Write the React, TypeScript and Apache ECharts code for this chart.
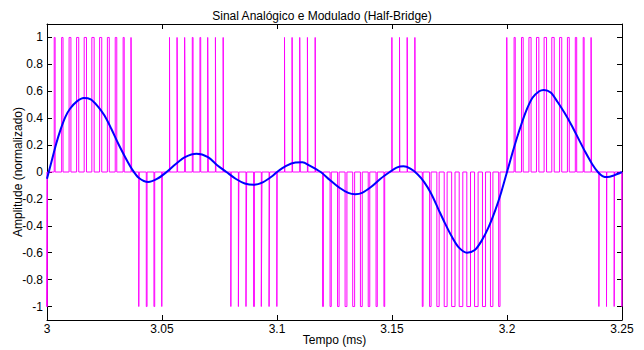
import React, { useEffect, useRef } from "react";
import * as echarts from "echarts";

const chartTitle = "Sinal Analógico e Modulado (Half-Bridge)";
const xName = "Tempo (ms)";
const yName = "Amplitude (normalizado)";
const xTicks = [3, 3.05, 3.1, 3.15, 3.2, 3.25];
const yTicks = [-1, -0.8, -0.6, -0.4, -0.2, 0, 0.2, 0.4, 0.6, 0.8, 1];

const analogTime = [
  3.0, 3.002, 3.004, 3.006, 3.008, 3.01, 3.013, 3.016, 3.019, 3.022, 3.025, 3.028, 3.031, 3.034, 3.037,
  3.04, 3.044, 3.048, 3.052, 3.056, 3.06, 3.065, 3.07, 3.074, 3.078, 3.082, 3.086, 3.09, 3.094, 3.098,
  3.1, 3.104, 3.108, 3.111, 3.114, 3.119, 3.123, 3.127, 3.131, 3.134, 3.137, 3.141, 3.145, 3.149, 3.152,
  3.155, 3.158, 3.161, 3.164, 3.167, 3.17, 3.173, 3.176, 3.179, 3.1826, 3.186, 3.189, 3.192, 3.195,
  3.1975, 3.2, 3.2025, 3.205, 3.208, 3.211, 3.214, 3.216, 3.219, 3.222, 3.225, 3.228, 3.231, 3.234, 3.237,
  3.2395, 3.2415, 3.2437, 3.2465, 3.25,
];
const analogValue = [
  -0.05, 0.08, 0.21, 0.32, 0.41, 0.47, 0.525, 0.55, 0.54, 0.49, 0.42, 0.32, 0.21, 0.11, 0.02,
  -0.045, -0.075, -0.05, 0.0, 0.06, 0.11, 0.135, 0.11, 0.05, 0.0, -0.05, -0.085, -0.095, -0.075, -0.03,
  0.0, 0.045, 0.07, 0.072, 0.05, 0.0, -0.06, -0.115, -0.155, -0.165, -0.155, -0.11, -0.05, 0.0, 0.033,
  0.042, 0.025, -0.015, -0.075, -0.16, -0.27, -0.38, -0.48, -0.56, -0.6, -0.58, -0.51, -0.41, -0.28,
  -0.15, 0.0, 0.15, 0.29, 0.44, 0.55, 0.6, 0.61, 0.59, 0.52, 0.44, 0.35, 0.25, 0.15, 0.06,
  0.0, -0.03, -0.038, -0.025, 0.0,
];

const carrierStart = 3;
const carrierPeriod = 0.25 / 75;
// signed duty of each carrier period's pulse (sign = output level)
const pulseDuty = [
  -0.1, 0.12, 0.18, 0.24, 0.28, 0.3, 0.3, 0.28, 0.25, 0.2, 0.14, 0.08,
  -0.06, -0.1, -0.1, -0.06,
  0.04, 0.07, 0.09, 0.1, 0.1, 0.08, 0.06, 0.04,
  -0.04, -0.07, -0.09, -0.1, -0.09, -0.07, -0.04,
  0.04, 0.06, 0.07, 0.06, 0.04,
  -0.1, -0.16, -0.2, -0.24, -0.25, -0.24, -0.2, -0.16, -0.1,
  0.03, 0.04, 0.04, 0.03,
  -0.1, -0.2, -0.3, -0.38, -0.44, -0.47, -0.48, -0.46, -0.4, -0.32, -0.18,
  0.06, 0.15, 0.22, 0.28, 0.31, 0.32, 0.31, 0.28, 0.24, 0.18, 0.12, 0.06,
  -0.03, -0.04, -0.04, -0.03,
];

function buildPwm(): number[][] {
  const pts: number[][] = [[carrierStart, 0]];
  pulseDuty.forEach((d, k) => {
    const tc = carrierStart + k * carrierPeriod;
    const w = Math.abs(d) * carrierPeriod;
    const lvl = d >= 0 ? 1 : -1;
    pts.push([tc - w / 2, 0], [tc - w / 2, lvl], [tc + w / 2, lvl], [tc + w / 2, 0]);
  });
  pts.push([xTicks[xTicks.length - 1], 0]);
  return pts;
}

const fmt = (v: number) => String(parseFloat(Number(v).toFixed(2)));

export default function App() {
  const ref = useRef<HTMLDivElement>(null);
  useEffect(() => {
    document.body.style.margin = "0";
    const chart = echarts.init(ref.current!, null, { renderer: "svg" });
    const font = "Liberation Sans, Arial, sans-serif";
    const axisLine = { show: true, onZero: false, lineStyle: { color: "#000", width: 1 } };
    chart.setOption({
      animation: false,
      backgroundColor: "#fff",
      textStyle: { fontFamily: font },
      title: {
        text: chartTitle,
        left: "center",
        top: 5,
        textStyle: { fontSize: 12, fontWeight: "normal", color: "#000", fontFamily: font },
      },
      grid: { left: 47, right: 22, top: 24, bottom: 30, containLabel: false, outerBoundsMode: "none" },
      xAxis: [
        {
          type: "value",
          min: 3,
          max: 3.25,
          interval: 0.05,
          name: xName,
          nameLocation: "middle",
          nameGap: 14,
          nameMoveOverlap: false,
          nameTextStyle: { fontSize: 12, color: "#000", fontFamily: font, verticalAlign: "top" },
          axisLine,
          axisTick: { show: true, inside: true, length: 5, lineStyle: { color: "#000" } },
          axisLabel: { color: "#000", fontSize: 12, margin: 3, formatter: fmt, fontFamily: font },
          splitLine: { show: false },
        },
        {
          type: "value",
          position: "top",
          min: 3,
          max: 3.25,
          interval: 0.05,
          axisLine,
          axisTick: { show: true, inside: true, length: 5, lineStyle: { color: "#000" } },
          axisLabel: { show: false },
          splitLine: { show: false },
        },
      ],
      yAxis: [
        {
          type: "value",
          min: -1.1,
          max: 1.1,
          name: yName,
          nameLocation: "middle",
          nameGap: 29,
          nameMoveOverlap: false,
          nameTextStyle: { fontSize: 12, color: "#000", fontFamily: font, verticalAlign: "middle" },
          axisLine,
          axisTick: { show: true, inside: true, length: 5, customValues: yTicks, lineStyle: { color: "#000" } },
          axisLabel: { color: "#000", fontSize: 12, margin: 4, customValues: yTicks, formatter: fmt, fontFamily: font },
          splitLine: { show: false },
        },
        {
          type: "value",
          position: "right",
          min: -1.1,
          max: 1.1,
          axisLine,
          axisTick: { show: true, inside: true, length: 5, customValues: yTicks, lineStyle: { color: "#000" } },
          axisLabel: { show: false },
          splitLine: { show: false },
        },
      ],
      series: [
        {
          type: "line",
          name: "PWM",
          data: buildPwm(),
          showSymbol: false,
          symbol: "none",
          clip: true,
          lineStyle: { color: "#ff00ff", width: 1 },
          z: 2,
        },
        {
          type: "line",
          name: "Analog",
          data: analogTime.map((t, i) => [t, analogValue[i]]),
          showSymbol: false,
          symbol: "none",
          smooth: 0.3,
          clip: true,
          lineStyle: { color: "#0000ff", width: 2 },
          z: 3,
        },
      ],
    });
    return () => chart.dispose();
  }, []);
  return <div ref={ref} style={{ position: "fixed", left: 0, top: 0, width: 644, height: 350 }} />;
}
